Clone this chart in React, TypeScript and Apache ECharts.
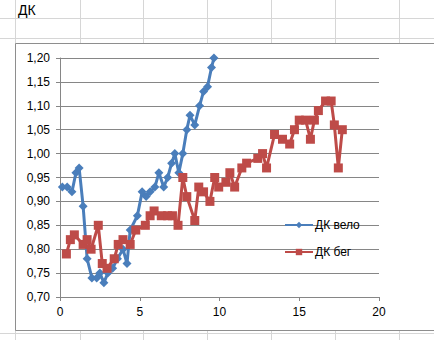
import React, { useEffect, useRef } from "react";
import * as echarts from "echarts";

const seriesNames = ["ДК вело", "ДК бег"];

const veloX = [0.15, 0.45, 0.75, 1.0, 1.2, 1.45, 1.7, 2.0, 2.3, 2.5, 2.75, 3.0, 3.3, 3.6, 3.95, 4.2, 4.4, 4.85, 5.15, 5.4, 5.65, 5.95, 6.2, 6.5, 6.75, 7.0, 7.2, 7.45, 7.7, 7.95, 8.15, 8.45, 8.75, 9.0, 9.25, 9.5, 9.65];
const veloY = [0.93, 0.93, 0.92, 0.96, 0.97, 0.89, 0.78, 0.74, 0.74, 0.75, 0.73, 0.75, 0.76, 0.78, 0.8, 0.77, 0.84, 0.87, 0.92, 0.91, 0.92, 0.93, 0.96, 0.93, 0.95, 0.98, 1.0, 0.96, 1.0, 1.05, 1.08, 1.06, 1.1, 1.13, 1.14, 1.18, 1.2];

const begX = [0.4, 0.65, 0.9, 1.45, 1.7, 1.95, 2.4, 2.65, 2.95, 3.4, 3.65, 3.95, 4.4, 4.75, 5.35, 5.65, 5.9, 6.35, 6.75, 7.05, 7.4, 7.7, 7.95, 8.45, 8.7, 9.0, 9.4, 9.7, 9.95, 10.4, 10.65, 10.95, 11.4, 11.7, 12.4, 12.7, 12.95, 13.45, 13.95, 14.4, 14.7, 15.0, 15.4, 15.7, 15.95, 16.2, 16.65, 17.0, 17.2, 17.45, 17.7];
const begY = [0.79, 0.82, 0.83, 0.81, 0.82, 0.8, 0.85, 0.77, 0.76, 0.78, 0.81, 0.82, 0.81, 0.84, 0.85, 0.87, 0.88, 0.87, 0.87, 0.87, 0.85, 0.95, 0.91, 0.86, 0.93, 0.92, 0.9, 0.95, 0.93, 0.94, 0.96, 0.93, 0.97, 0.98, 0.99, 1.0, 0.97, 1.04, 1.03, 1.02, 1.05, 1.07, 1.07, 1.03, 1.07, 1.09, 1.11, 1.11, 1.06, 0.97, 1.05];

const xTicks = { min: 0, max: 20, interval: 5 };
const yTicks = { min: 0.7, max: 1.2, interval: 0.05 };

const sheetTitle = "ДК";

export default function App() {
  const ref = useRef<HTMLDivElement>(null);
  useEffect(() => {
    document.body.style.margin = "0";
    const chart = echarts.init(ref.current!, null, { renderer: "svg" });
    const colX = [15, 80, 143, 207, 271, 335, 399];
    const rowY = [18, 38, 333];
    const sheetLines: any[] = [];
    colX.forEach((x) =>
      sheetLines.push({ type: "line", z: -20, silent: true, shape: { x1: x + 0.5, y1: 0, x2: x + 0.5, y2: 340 }, style: { stroke: "#d6d6d6", lineWidth: 1 } })
    );
    rowY.forEach((y) =>
      sheetLines.push({ type: "line", z: -20, silent: true, shape: { x1: 0, y1: y + 0.5, x2: 434, y2: y + 0.5 }, style: { stroke: "#d6d6d6", lineWidth: 1 } })
    );
    const font = "'Liberation Sans', Arial, sans-serif";
    chart.setOption({
      animation: false,
      backgroundColor: "#ffffff",
      textStyle: { fontFamily: font },
      graphic: [
        ...sheetLines,
        { type: "rect", z: -15, silent: true, shape: { x: 15.5, y: 43.5, width: 440, height: 287 }, style: { fill: "#ffffff", stroke: "#8e8e8e", lineWidth: 1 } },
        { type: "text", z: -10, left: 18, top: 3, style: { text: sheetTitle, fontSize: 14, fill: "#000", fontFamily: font } },
      ],
      legend: {
        orient: "vertical",
        left: 279,
        top: 214,
        itemWidth: 28,
        itemHeight: 8,
        itemGap: 15,
        textStyle: { fontSize: 12, color: "#000", fontFamily: font, padding: [0, 0, 0, -3] },
        data: seriesNames,
      },
      grid: { left: 60, top: 58, right: 55, bottom: 43, containLabel: false },
      xAxis: {
        type: "value",
        min: xTicks.min,
        max: xTicks.max,
        interval: xTicks.interval,
        splitLine: { show: false },
        axisLine: { onZero: false, lineStyle: { color: "#868686" } },
        axisTick: { show: true, length: 4, lineStyle: { color: "#868686" } },
        axisLabel: { fontSize: 12, color: "#000", margin: 9 },
      },
      yAxis: {
        type: "value",
        min: yTicks.min,
        max: yTicks.max,
        interval: yTicks.interval,
        axisLine: { show: true, lineStyle: { color: "#868686" } },
        axisTick: { show: true, length: 4, lineStyle: { color: "#868686" } },
        splitLine: { show: true, lineStyle: { color: "#868686", width: 1 } },
        axisLabel: {
          fontSize: 12,
          color: "#000",
          margin: 10,
          formatter: (v: number) => v.toFixed(2).replace(".", ","),
        },
      },
      series: [
        {
          name: seriesNames[0],
          type: "line",
          data: veloX.map((x, i) => [x, veloY[i]]),
          symbol: "diamond",
          symbolSize: 9,
          showAllSymbol: true,
          lineStyle: { width: 3, color: "#4a7ebb" },
          itemStyle: { color: "#4a7ebb" },
          clip: true,
        },
        {
          name: seriesNames[1],
          type: "line",
          data: begX.map((x, i) => [x, begY[i]]),
          symbol: "rect",
          symbolSize: 9,
          showAllSymbol: true,
          lineStyle: { width: 3, color: "#be4b48" },
          itemStyle: { color: "#be4b48" },
          clip: true,
        },
      ],
    });
    return () => chart.dispose();
  }, []);
  return <div ref={ref} style={{ position: "fixed", left: 0, top: 0, width: 434, height: 340 }} />;
}
